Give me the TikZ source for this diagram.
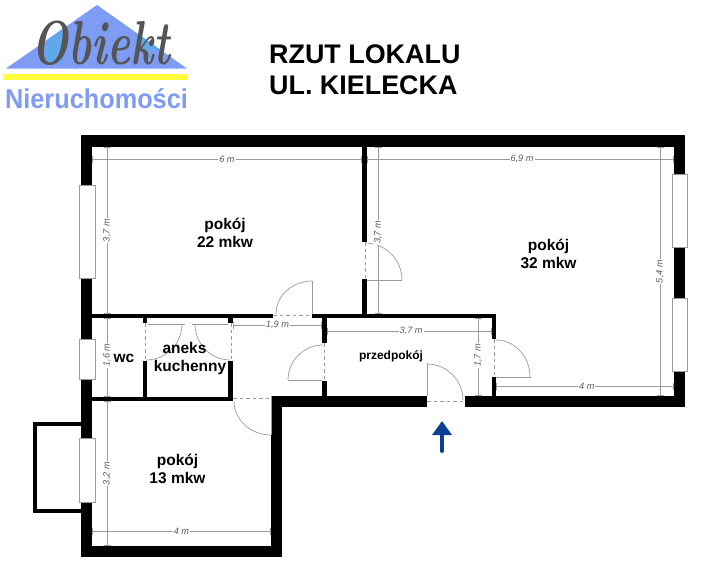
\documentclass[tikz,border=0pt]{standalone}
\usepackage{xcolor}
\usepackage{fontspec}
\setmainfont{Liberation Sans}
\newfontfamily\logofont{Latin Modern Roman}
\usetikzlibrary{calc,arrows.meta}
\definecolor{logoblue}{HTML}{7F9CF5}
\definecolor{logosky}{HTML}{5FA8EA}
\definecolor{logoyellow}{HTML}{FFFF3C}
\definecolor{logogrey}{HTML}{555555}
\definecolor{arrowblue}{HTML}{0B3F8F}
\definecolor{linegrey}{HTML}{9A9A9A}
\newcommand{\doorarc}[3]{\draw[doorline] (#1) .. controls ($(#1)!.55!(#2)$) and ($(#3)!.55!(#2)$) .. (#3);}
\begin{document}
\begin{tikzpicture}[x=1pt,y=-1pt,
    wall/.style={fill=black},
    windowbox/.style={draw=linegrey,fill=white,line width=.6pt},
    doorline/.style={draw=linegrey,line width=.7pt},
    doorgap/.style={draw=linegrey,line width=.8pt,dash pattern=on 3.5pt off 3pt},
    dimline/.style={draw=linegrey,line width=.6pt,{Bar[width=7pt]}-{Bar[width=7pt]}},
    dimlabel/.style={font=\fontsize{9.2}{10}\selectfont\itshape,text=black!65,fill=white,inner sep=1pt},
    roomlabel/.style={font=\fontsize{15.5}{17.8}\selectfont\bfseries,align=center,inner sep=0pt}]
    \useasboundingbox (0,0) rectangle (717,581);

    % Logo
    \begin{scope}
        \clip (97,5) -- (187,68.5) -- (6,68.5) -- cycle;
        \fill[logoblue] (0,0) rectangle (190,70);
        \fill[logosky] (48,32) -- (62,26) -- (64,62) -- (44,62) -- cycle;
        \fill[logosky] (135,35) -- (165,33) -- (165,50) -- (135,50) -- cycle;
    \end{scope}
    \fill[logoyellow] (3,74) rectangle (188,80);
    \node[text=logogrey,font=\logofont\fontsize{62}{62}\selectfont\bfseries\itshape,inner sep=0pt,xscale=.7] (logoname) at (101,43) {Obiekt};
    \node[text=logoblue,font=\fontsize{25.3}{28}\selectfont\bfseries,inner sep=0pt,yscale=1.08] (logotext) at (96.5,99) {Nieruchomości};

    % Title
    \node[font=\fontsize{26.9}{31}\selectfont\bfseries,align=left,anchor=west,inner sep=0pt] (title) at (269,69.5) {RZUT LOKALU\\UL. KIELECKA};

    % Outer walls
    \fill[wall] (81,135) rectangle (685,147);
    \fill[wall] (81,135) rectangle (92,557);
    \fill[wall] (81,546) rectangle (282,557);
    \fill[wall] (271,396) rectangle (282,557);
    \fill[wall] (271,396) rectangle (427,407);
    \fill[wall] (465,396) rectangle (685,407);
    \fill[wall] (674,135) rectangle (685,407);

    % Balcony
    \fill[wall] (33,422) rectangle (81,426);
    \fill[wall] (33,509) rectangle (81,513);
    \fill[wall] (33,422) rectangle (37,513);

    % Inner walls
    \fill[wall] (92,314) rectangle (273,318);
    \fill[wall] (312,314) rectangle (496,318);
    \fill[wall] (362,147) rectangle (367,242);
    \fill[wall] (362,279) rectangle (367,314);
    \fill[wall] (92,397) rectangle (233,401);
    \fill[wall] (143,318) rectangle (147,323);
    \fill[wall] (228,318) rectangle (233,323);
    \fill[wall] (143,361) rectangle (147,397);
    \fill[wall] (228,361) rectangle (233,397);
    \fill[wall] (322,318) rectangle (327,343);
    \fill[wall] (322,381) rectangle (327,396);
    \fill[wall] (492,318) rectangle (496,339);
    \fill[wall] (492,377) rectangle (496,396);

    % Windows
    \draw[windowbox] (79,185) rectangle (95,278);
    \draw[windowbox] (79,339) rectangle (95,379);
    \draw[windowbox] (79,438) rectangle (95,502);
    \draw[windowbox] (672,174) rectangle (687,247);
    \draw[windowbox] (672,298) rectangle (687,371);

    % Doors
    \draw[doorgap] (365,242) -- (365,279);
    \draw[doorline] (367,280) -- (402,280);
    \doorarc{365,243}{402,243}{402,280}
    \draw[doorgap] (273,315.5) -- (312,315.5);
    \draw[doorline] (312,314) -- (312,281);
    \doorarc{312,281}{276,281}{276,314}
    \draw[doorgap] (145,323) -- (145,361);
    \draw[doorline] (148,324) -- (185,324);
    \doorarc{182,324}{182,360}{146,360}
    \draw[doorgap] (231,323) -- (231,361);
    \draw[doorline] (192,324) -- (228,324);
    \doorarc{195,324}{195,360}{230,360}
    \draw[doorgap] (233,398.5) -- (271,398.5);
    \draw[doorline] (271,396) -- (271,435);
    \doorarc{234,401}{234,435}{271,435}
    \draw[doorgap] (324.5,343) -- (324.5,381);
    \draw[doorline] (288,380.5) -- (322,380.5);
    \doorarc{288,380}{288,345}{323,345}
    \draw[doorgap] (494,339) -- (494,377);
    \draw[doorline] (496,377) -- (531,377);
    \doorarc{496,340}{530,340}{530,377}
    \draw[doorgap] (427,401) -- (465,401);
    \draw[doorline] (427,396) -- (427,363);
    \doorarc{427,364}{463,364}{463,400}

    % Entrance arrow
    \draw[arrowblue,line width=3.8pt,line cap=round,-{Triangle[length=14pt,width=19pt]}] (442,451) -- (442,421);

    % Dimensions
    \draw[dimline] (92,159) -- (362,159) node[dimlabel,pos=.5] (dimsix) {6 m};
    \draw[dimline] (367,159) -- (674,159) node[dimlabel,pos=.505] (dimsixnine) {6,9 m};
    \draw[dimline] (107,147) -- (107,314) node[dimlabel,rotate=90,pos=.5] (dimleft) {3,7 m};
    \draw[dimline] (378,147) -- (378,314) node[dimlabel,rotate=90,pos=.51] (dimmid) {3,7 m};
    \draw[dimline] (660,147) -- (660,396) node[dimlabel,rotate=90,pos=.5] (dimright) {5,4 m};
    \draw[dimline] (496,386) -- (674,386) node[dimlabel,pos=.51] (dimfour) {4 m};
    \draw[dimline] (233,325) -- (322,325) node[dimlabel,pos=.5] (dimhall) {1,9 m};
    \draw[dimline] (327,331) -- (492,331) node[dimlabel,pos=.51] (dimentry) {3,7 m};
    \draw[dimline] (478,318) -- (478,396) node[dimlabel,rotate=90,pos=.48] (dimcloset) {1,7 m};
    \draw[dimline] (107,318) -- (107,397) node[dimlabel,rotate=90,pos=.47] (dimwc) {1,6 m};
    \draw[dimline] (107,401) -- (107,546) node[dimlabel,rotate=90,pos=.5] (dimbottom) {3,2 m};
    \draw[dimline] (92,531) -- (271,531) node[dimlabel,pos=.5] (dimbase) {4 m};

    % Rooms
    \node[roomlabel] (roomone) at (225,232.5) {pokój\\22 mkw};
    \node[roomlabel] (roomtwo) at (548.5,253.5) {pokój\\32 mkw};
    \node[roomlabel] (roomthree) at (177.5,469) {pokój\\13 mkw};
    \node[roomlabel] (roomwc) at (124,358) {wc};
    \node[roomlabel] (roomkitchen) at (184.5,348) {aneks};
    \node[roomlabel] (roomkitchentwo) at (190,367) {kuchenny};
    \node[roomlabel,font=\fontsize{12}{14}\selectfont\bfseries] (roomhall) at (391,356) {przedpokój};
\end{tikzpicture}
\end{document}
